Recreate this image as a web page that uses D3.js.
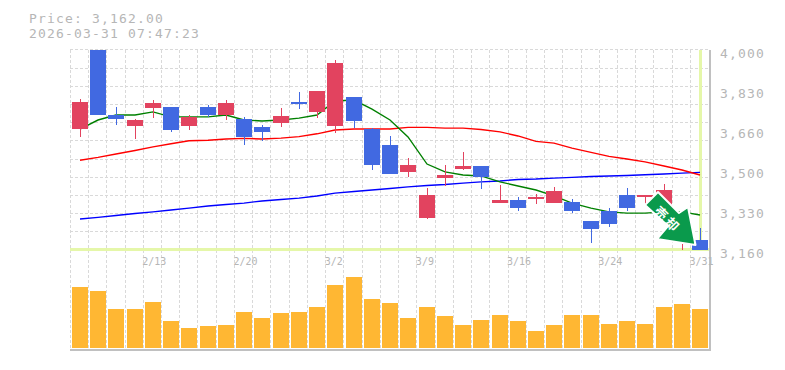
<!DOCTYPE html>
<html><head><meta charset="utf-8">
<style>html,body{margin:0;padding:0;background:#fff}svg{display:block}text{font-family:"DejaVu Sans Mono",monospace;fill:#b6b6b6}</style>
<script src="https://cdn.jsdelivr.net/npm/d3@7"></script></head><body>
<svg id="c" width="785" height="370"></svg>
<script>
const dates=["2/6","2/9","2/10","2/12","2/13","2/16","2/17","2/18","2/19","2/20","2/24","2/25","2/26","2/27","3/2","3/3","3/4","3/5","3/6","3/9","3/10","3/11","3/12","3/13","3/16","3/17","3/18","3/19","3/23","3/24","3/25","3/26","3/27","3/30","3/31"];
const labelledDates=["2/13","2/20","3/2","3/9","3/16","3/24","3/31"];
const priceLabels=[4000,3830,3660,3500,3330,3160];
const opens=[3668,4050,3727,3681,3756,3761,3681,3761,3727,3710,3677,3693,3782,3740,3681,3803,3668,3601,3488,3294,3462,3500,3513,3357,3370,3374,3357,3362,3282,3324,3391,3383,3350,3223,3202];
const closes=[3782,3727,3710,3706,3777,3664,3719,3727,3777,3635,3656,3723,3773,3828,3945,3702,3517,3479,3517,3391,3475,3513,3467,3370,3336,3383,3408,3324,3248,3269,3336,3391,3412,3307,3162];
const highs=[3794,4050,3761,3710,3790,3761,3727,3769,3790,3719,3685,3756,3824,3828,3958,3803,3672,3639,3546,3420,3517,3572,3513,3433,3383,3395,3425,3374,3282,3336,3420,3391,3437,3307,3252];
const lows=[3635,3727,3685,3626,3714,3656,3664,3719,3706,3601,3618,3677,3752,3714,3651,3672,3496,3479,3467,3290,3429,3496,3416,3357,3324,3353,3357,3315,3189,3257,3324,3353,3350,3150,3160];
const maShort=[3668,3706,3727,3727,3740,3719,3719,3719,3727,3706,3702,3706,3714,3727,3786,3790,3752,3706,3635,3521,3488,3475,3471,3446,3429,3412,3387,3357,3336,3320,3315,3315,3320,3320,3307];
const maMid=[3537,3549,3563,3578,3593,3606,3619,3621,3626,3629,3626,3630,3636,3648,3664,3668,3668,3668,3675,3675,3672,3672,3666,3656,3639,3616,3609,3588,3570,3553,3542,3530,3513,3496,3475];
const maLong=[3290,3297,3305,3313,3320,3328,3336,3345,3351,3357,3366,3372,3378,3387,3399,3406,3412,3418,3425,3431,3435,3441,3446,3450,3456,3458,3462,3465,3469,3471,3473,3476,3479,3483,3486];
const volumes=[61,57,39,39,46,27,20,22,23,36,30,35,36,41,63,71,49,45,30,41,32,23,28,33,27,17,23,33,33,24,27,24,41,44,39];
const titleLines=["Price: 3,162.00","2026-03-31 07:47:23"];
const lastPrice=3162, lastDate="3/31";
const gridRows=d3.range(12);

const svg=d3.select("#c");
const x=d3.scaleBand().domain(dates).range([70.3,708.7]);
const y=d3.scaleLinear().domain([3160,4000]).range([250,50]);
const yLab=d3.scalePoint().domain(priceLabels).range([53,253]);
const yGrid=d3.scalePoint().domain(gridRows).range([50,250]);
const yVol=d3.scaleLinear().domain([0,d3.max(volumes)]).range([348,277]);
const bx=d=>Math.round(x(d)+1.7);
const cx=d=>bx(d)+8;
const crisp=v=>Math.floor(v)+.5;
const grid=svg.append("g").attr("stroke","#d9d9d9").attr("stroke-width",1).attr("stroke-dasharray","3,2").attr("shape-rendering","crispEdges");
gridRows.forEach(r=>grid.append("line").attr("x1",70).attr("x2",709).attr("y1",crisp(yGrid(r))).attr("y2",crisp(yGrid(r))));
dates.forEach(d=>grid.append("line").attr("y1",50).attr("y2",350).attr("x1",crisp(x(d))).attr("x2",crisp(x(d))));

// frame
const frame=svg.append("g").attr("fill","#c0c0c0").attr("shape-rendering","crispEdges");
frame.append("rect").attr("x",70).attr("y",349).attr("width",640).attr("height",2);
frame.append("rect").attr("x",709).attr("y",50).attr("width",1.5).attr("height",301);

// current price cross
const lime="#e5f7a9";
svg.append("rect").attr("x",70).attr("width",639).attr("y",y(lastPrice)-1.5).attr("height",3).attr("fill",lime);
svg.append("rect").attr("x",cx(lastDate)-1).attr("width",3).attr("y",50).attr("height",200).attr("fill",lime);

// moving averages
svg.append("defs").append("clipPath").attr("id","pane").append("rect").attr("x",70).attr("y",50).attr("width",640).attr("height",200);
const ln=d3.line().x((v,i)=>cx(dates[i])).y(v=>y(v));
[[maLong,"#0000ff"],[maMid,"#ff0000"],[maShort,"#008000"]].forEach(([s,c])=>
  svg.append("path").attr("d",ln(s)).attr("fill","none").attr("stroke",c).attr("stroke-width",1.4));

// candles
const up="#e2435f",down="#4169e1";
const cg=svg.append("g").attr("clip-path","url(#pane)").attr("shape-rendering","crispEdges");
cg.selectAll("rect.w").data(dates).join("rect").attr("class","w")
  .attr("x",d=>cx(d)).attr("width",1)
  .attr("y",(d,i)=>y(highs[i])).attr("height",(d,i)=>y(lows[i])-y(highs[i]))
  .attr("fill",(d,i)=>closes[i]>=opens[i]?up:down);
cg.selectAll("rect.b").data(dates).join("rect").attr("class","b")
  .attr("x",d=>bx(d)).attr("width",16)
  .attr("y",(d,i)=>y(Math.max(opens[i],closes[i])))
  .attr("height",(d,i)=>Math.abs(y(opens[i])-y(closes[i])))
  .attr("fill",(d,i)=>closes[i]>=opens[i]?up:down);

// volume
svg.append("g").attr("shape-rendering","crispEdges").selectAll("rect").data(dates).join("rect")
  .attr("x",d=>bx(d)).attr("width",16)
  .attr("y",(d,i)=>yVol(volumes[i])).attr("height",(d,i)=>yVol(0)-yVol(volumes[i]))
  .attr("fill","#ffb733");

// axes
const fmt=d3.format(",");
const ay=svg.append("g").attr("transform","translate(720,0)").call(d3.axisRight(yLab).tickSize(0).tickPadding(0).tickFormat(fmt));
ay.select(".domain").remove();
ay.attr("font-family",null);
ay.selectAll("text").attr("font-size",13).style("letter-spacing","1.17px").attr("x",0).attr("dy",".35em");
const ax=svg.append("g").attr("transform","translate(0,250)").call(d3.axisBottom(x).tickValues(labelledDates).tickSize(0).tickPadding(0));
ax.select(".domain").remove();
ax.attr("font-family",null);
ax.selectAll(".tick").attr("transform",d=>`translate(${x(d)-1},0)`);
ax.selectAll("text").attr("font-size",10).attr("text-anchor","start").attr("x",0).attr("y",15).attr("dy",null);

// title
svg.selectAll("text.t").data(titleLines).join("text").attr("class","t").attr("x",29).attr("y",(d,i)=>23+i*15).attr("font-size",13).style("letter-spacing","1.17px").text(d=>d);

// annotation arrow
const ag=svg.append("g");
ag.append("polygon").attr("points","645,205 658,192 679,213 688,207 695.5,245 657,239 668,226")
  .attr("fill","#0a9a4c").attr("stroke","#fff").attr("stroke-width",2).attr("stroke-linejoin","round");
[["売",661,213],["却",672,224]].forEach(([t,a,b])=>
  ag.append("text").attr("transform",`translate(${a},${b}) rotate(45)`).attr("text-anchor","middle").attr("dy",".38em")
   .style("font-family",'"Noto Sans CJK JP"').style("fill","#fff").attr("font-weight","bold").attr("font-size",13).text(t));
</script></body></html>
